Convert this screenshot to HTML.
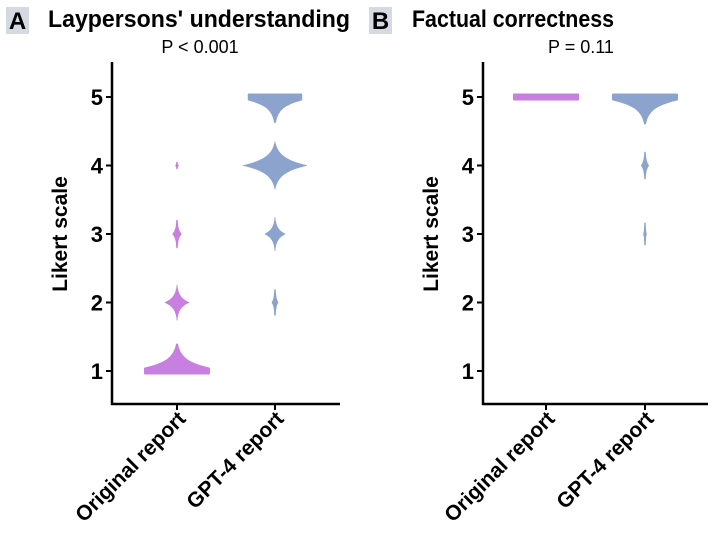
<!DOCTYPE html>
<html><head><meta charset="utf-8"><style>
body{margin:0;background:#fff;width:712px;height:531px;overflow:hidden}
svg text{font-family:"Liberation Sans",Arial,sans-serif}
</style></head><body>
<svg id="c" width="712" height="531" xmlns="http://www.w3.org/2000/svg">
<rect x="6" y="7" width="23" height="27" fill="#d5dae2"/>
<text x="17.5" y="29" font-size="24" font-weight="bold" text-anchor="middle">A</text>
<text x="48" y="27" font-size="24" font-weight="bold" textLength="302" lengthAdjust="spacingAndGlyphs">Laypersons' understanding</text>
<text x="200" y="53" font-size="18" text-anchor="middle">P &lt; 0.001</text>
<rect x="369" y="7" width="23" height="27" fill="#d5dae2"/>
<text x="380.5" y="29" font-size="24" font-weight="bold" text-anchor="middle">B</text>
<text x="412" y="27" font-size="24" font-weight="bold" textLength="202" lengthAdjust="spacingAndGlyphs">Factual correctness</text>
<text x="581" y="53" font-size="18" text-anchor="middle">P = 0.11</text>
</svg>
<script>
const categories = ["Original report", "GPT-4 report"];
const levels = [1, 2, 3, 4, 5];
const aOriginal = [100, 38, 12, 1, 0];
const aGpt4 = [0, 8, 32, 100, 82];
const bOriginal = [0, 0, 0, 0, 100];
const bGpt4 = [0, 0, 3, 10, 100];
const tickLabels = ["1", "2", "3", "4", "5"];

const svg = document.getElementById('c');
const NS = 'http://www.w3.org/2000/svg';
function mk(tag, attrs){const e=document.createElementNS(NS,tag);for(const k in attrs)e.setAttribute(k,attrs[k]);svg.appendChild(e);return e;}
function yScale(v){return 371 - (v-1)*68.5;}

const panels = [
  {id:'a', x0:112, x1:340, cx:[177,275], series:[aOriginal,aGpt4]},
  {id:'b', x0:483, x1:708, cx:[546,645], series:[bOriginal,bGpt4]}
];
const colors = ['#c77fe0','#8ba3cd'];
const maxW = 32;

panels.forEach(p=>{
  p.series.forEach((vals, si)=>{
    const cx = p.cx[si];
    const max = Math.max(...vals);
    vals.forEach((v, li)=>{
      if(!v) return;
      const lv = levels[li];
      const f = v/max;
      const w = Math.max(1, maxW*f);
      const h = (f<0.02?3:8 + 16*Math.sqrt(f));
      const y = yScale(lv);
      const top = lv===5 ? 0 : h;
      const bot = lv===1 ? 0 : h;
      const t = (lv===5||lv===1)?2.5:0;
      let d;
      if(lv===5 && si===0 && p.id==='b'){
        d = `M${cx-w},${y-t} L${cx+w},${y-t} L${cx+w},${y+t} L${cx-w},${y+t} Z`;
      } else {
        const ty=y-t, by=y+t;
        d = `M${cx-w},${ty} `+
          (top? `C${cx-w*0.35},${ty-top*0.2} ${cx-w*0.08},${ty-top*0.45} ${cx},${ty-top} C${cx+w*0.08},${ty-top*0.45} ${cx+w*0.35},${ty-top*0.2} ${cx+w},${ty} ` : `L${cx+w},${ty} `)+
          `L${cx+w},${by} `+
          (bot? `C${cx+w*0.35},${by+bot*0.2} ${cx+w*0.08},${by+bot*0.45} ${cx},${by+bot} C${cx-w*0.08},${by+bot*0.45} ${cx-w*0.35},${by+bot*0.2} ${cx-w},${by} ` : `L${cx-w},${by} `)+'Z';
      }
      const el = mk('path',{d:d, fill:colors[si], stroke:colors[si], 'stroke-width':(t?2:(f<0.15?1.5:0.5)), 'stroke-linejoin':'round'});
      
      
    });
  });
  const ya = mk('line',{x1:p.x0,y1:62,x2:p.x0,y2:405,stroke:'#000','stroke-width':2.5});
  
  
  const xa = mk('line',{x1:p.x0-1,y1:404,x2:p.x1,y2:404,stroke:'#000','stroke-width':2.5});
  
  
  levels.forEach((lv,i)=>{
    const y=yScale(lv);
    const tk = mk('line',{x1:p.x0-6,y1:y,x2:p.x0,y2:y,stroke:'#000','stroke-width':2});
    
    
    const tl = mk('text',{x:p.x0-9,y:y+8,'font-size':22,'font-weight':'bold','text-anchor':'end'});
    tl.textContent = tickLabels[i];
    
    
  });
  const yt = mk('text',{x:0,y:0,'font-size':21,'font-weight':'bold','text-anchor':'middle',transform:`translate(${p.x0-45},234) rotate(-90)`});
  yt.textContent='Likert scale';
  
  
  categories.forEach((c,i)=>{
    const cx=p.cx[i];
    const tk = mk('line',{x1:cx,y1:404,x2:cx,y2:410,stroke:'#000','stroke-width':2});
    
    
    const tl = mk('text',{x:0,y:0,'font-size':21,'font-weight':'bold','text-anchor':'end',transform:`translate(${cx+10},${420}) rotate(-45)`});
    tl.textContent=c;
    
    
  });
});
</script>
</body></html>
